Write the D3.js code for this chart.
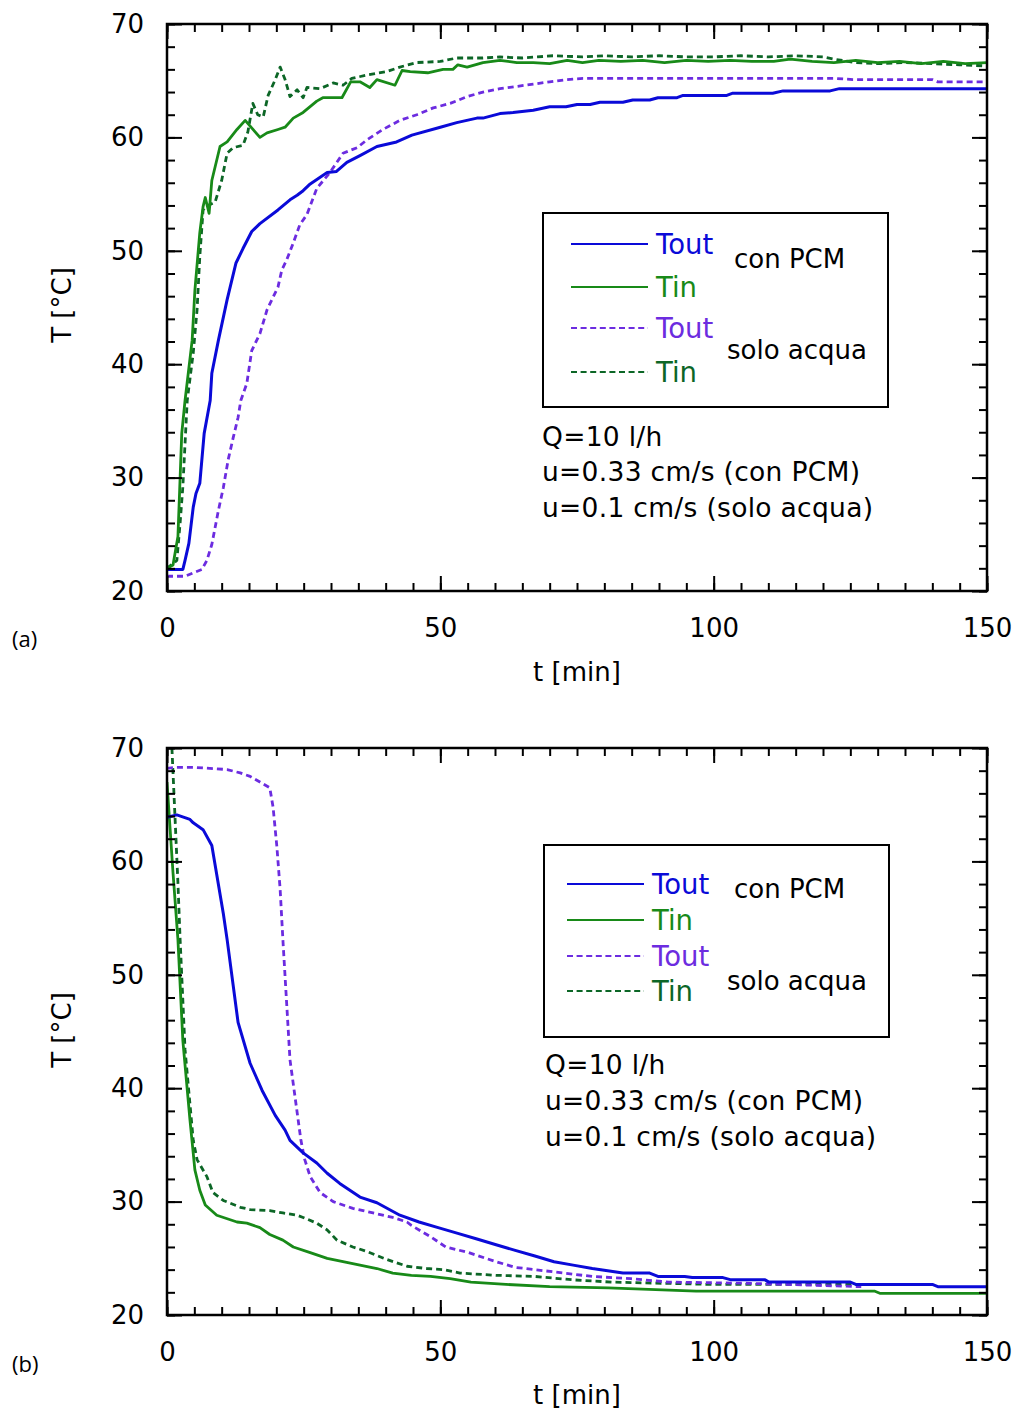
<!DOCTYPE html>
<html><head><meta charset="utf-8">
<script src="https://cdn.jsdelivr.net/npm/d3@7"></script>
<style>body{margin:0;background:#fff}svg{display:block}</style>
</head><body><svg id="c" width="1015" height="1412"></svg>
<script>
// ---------- DATA (t [min], T [°C]) ----------
// (a) heating
const a_ToutPCM = [[0,21.9],[2.9,21.9],[3.3,22.7],[4.0,24.2],[4.8,27.4],[5.3,28.6],[6.0,29.5],[6.8,33.9],[7.9,36.8],[8.2,39.2],[9.4,42.1],[11,45.7],[12.6,48.9],[13.9,50.2],[15.5,51.7],[17,52.4],[20.3,53.6],[22.5,54.5],[23.8,54.9],[24.9,55.3],[26.2,55.9],[29.3,56.9],[31,57.0],[32.9,57.8],[35.3,58.4],[38.4,59.2],[42,59.6],[44.8,60.2],[50,60.9],[53,61.3],[56.7,61.7],[57.8,61.7],[60.9,62.1],[63.3,62.2],[67,62.4],[70,62.7],[73,62.7],[75,62.9],[77.4,62.9],[79.2,63.1],[83.4,63.1],[85.2,63.3],[88.3,63.3],[89.8,63.5],[93.3,63.5],[94.4,63.7],[102.4,63.7],[103.5,63.9],[110.8,63.9],[112.7,64.1],[121.3,64.1],[123,64.3],[150,64.3]];
const a_TinPCM = [[0,22.0],[1.1,22.3],[2.0,24.8],[2.7,33.9],[3.3,36.8],[4.6,42.1],[5.1,46.5],[6.0,51.6],[6.6,53.9],[7.0,54.7],[7.7,53.3],[8.2,56.2],[9.7,59.2],[11,59.6],[12.8,60.7],[14.3,61.5],[17,60.0],[18.3,60.4],[20.3,60.7],[21.6,60.9],[23.1,61.7],[24.9,62.2],[27.4,63.2],[28.5,63.5],[32,63.5],[33.6,64.9],[35.3,64.9],[37.1,64.4],[38.4,65.1],[41.7,64.6],[43,65.9],[44.5,65.8],[47.7,65.7],[50.5,66.0],[52.3,66.0],[53.2,66.4],[54.9,66.2],[57.8,66.6],[60.9,66.8],[64,66.6],[67,66.6],[70,66.5],[73.2,66.8],[76,66.6],[79,66.8],[83,66.7],[87,66.8],[91,66.6],[95,66.8],[99,66.7],[103,66.8],[107,66.7],[111,66.7],[114,66.9],[118,66.7],[122,66.6],[126,66.8],[130,66.6],[134,66.7],[138,66.5],[142,66.7],[146,66.5],[150,66.6]];
const a_ToutAcqua = [[0,21.3],[3.3,21.3],[4.8,21.6],[6.4,21.9],[7.3,22.7],[8.2,24.1],[8.8,25.6],[9.4,27.1],[10.3,29.1],[11.2,31.6],[12.1,33.5],[13,35.3],[13.5,36.8],[14.6,38.3],[15.5,41.2],[17,42.7],[18.3,44.8],[19.4,45.9],[20.3,46.8],[21,48.3],[21.9,49.2],[23.1,50.7],[24.3,52.3],[25.6,53.2],[27.4,55.5],[29.8,56.9],[32.2,58.6],[34.8,59.1],[36.6,59.8],[39.5,60.7],[42.6,61.5],[45.7,62.0],[48.7,62.6],[51.8,63.0],[54.9,63.6],[57.8,64.0],[60.9,64.3],[64,64.5],[67,64.7],[70,64.9],[73.2,65.1],[76.1,65.2],[122,65.2],[125.5,65.1],[140,65.1],[141,64.9],[150,64.9]];
const a_TinAcqua = [[0,22.0],[1.8,22.7],[2.4,26.0],[2.9,29.2],[3.3,33.0],[3.7,36.8],[4.8,41.0],[5.5,44.8],[6.0,49.5],[6.6,53.6],[7.5,54.0],[8.8,54.3],[10,56.2],[11,58.6],[12.1,59.1],[13.9,59.3],[14.8,60.5],[15.7,63.0],[16.6,62.0],[17.6,61.8],[18.5,63.7],[19.8,65.1],[20.7,66.2],[21.6,65.1],[22.5,63.6],[23.8,64.2],[24.9,63.5],[25.6,64.4],[28,64.3],[30.4,64.8],[32.2,64.6],[33.8,65.2],[36.6,65.5],[40.2,65.8],[42.6,66.2],[45.7,66.6],[50,66.7],[53,67.0],[57.8,67.0],[60.9,67.1],[65,67.0],[70.6,67.2],[76,67.1],[80,67.2],[85,67.1],[90,67.2],[95,67.1],[100,67.1],[105,67.2],[110,67.1],[115,67.2],[120,67.1],[122,66.9],[126,66.6],[130,66.5],[135,66.6],[140,66.5],[145,66.4],[150,66.3]];
// (b) cooling
const b_ToutPCM = [[0,63.9],[1.8,64.1],[4.2,63.7],[4.8,63.4],[6.6,62.8],[8.2,61.4],[10.3,55.4],[11,53.1],[13,45.8],[15.2,42.2],[17.4,39.8],[19.8,37.6],[21.6,36.3],[22.5,35.4],[24.9,34.3],[27.4,33.4],[29.3,32.5],[31.6,31.6],[35.3,30.4],[38.4,29.9],[42.6,28.8],[46.1,28.2],[49.6,27.7],[53.2,27.2],[56.7,26.7],[60.2,26.2],[63.7,25.7],[67.3,25.2],[70.8,24.7],[74.3,24.4],[77.8,24.1],[83.4,23.7],[88.3,23.7],[89.8,23.4],[94.7,23.4],[96.1,23.3],[101.7,23.3],[103.2,23.1],[109.4,23.1],[110.1,22.9],[125,22.9],[126,22.7],[140,22.7],[141,22.5],[150,22.5]];
const b_TinPCM = [[0,67.0],[1.1,59.0],[2.0,53.1],[2.9,44.2],[4.2,37.2],[5.1,32.8],[6.0,31.0],[7.0,29.7],[9.1,28.8],[12.8,28.2],[14.6,28.1],[17,27.7],[18.8,27.1],[21.2,26.6],[23.1,26.0],[26.2,25.5],[29.3,25.0],[32.2,24.7],[35.3,24.4],[38.4,24.1],[41.3,23.7],[44.7,23.5],[48.2,23.4],[51.8,23.2],[55.6,22.9],[62,22.7],[70,22.5],[80.7,22.4],[96.8,22.1],[129.5,22.1],[130.5,21.9],[150,21.9]];
const b_ToutAcqua = [[0,68.2],[1.8,68.3],[4.8,68.3],[11,68.1],[13.4,67.8],[15.2,67.5],[17,67.0],[18.8,66.5],[19.4,64.8],[20.1,61.3],[20.7,57.5],[21.2,53.1],[22.5,42.5],[24.5,35.4],[25.2,33.7],[26.2,32.2],[28,30.8],[30.4,30.0],[34,29.4],[37.7,29.0],[41.3,28.6],[43.9,28.2],[44.7,27.9],[48.2,26.9],[51,26.0],[55.2,25.5],[60.2,24.7],[63.7,24.2],[70.8,23.8],[77.8,23.4],[84.9,23.2],[91.8,22.9],[105.9,22.8],[113,22.7],[120,22.6],[127,22.5]];
const b_TinAcqua = [[0.9,70.0],[2.0,58.1],[2.4,53.1],[3.3,43.4],[4.8,35.4],[5.5,33.7],[7.3,32.2],[8.4,30.8],[10.3,30.1],[13.4,29.5],[15.2,29.3],[18.8,29.2],[21.2,29.0],[23.8,28.8],[24.9,28.6],[27.4,28.1],[29.3,27.5],[31.1,26.6],[34,26.0],[36.6,25.6],[40.2,24.9],[43.9,24.3],[47.5,24.1],[50.5,24.0],[53.6,23.7],[60.2,23.5],[67.3,23.4],[74.3,23.1],[81.4,22.9],[90.6,22.8],[99,22.7],[127,22.7]];

// tick values / labels
const xMajor = [0, 50, 100, 150];
const xMinor = d3.range(0, 151, 5);
const yMajor = [20, 30, 40, 50, 60, 70];
const yMinor = d3.range(20, 71, 2);
const seriesLabels = ["Tout", "Tin", "Tout", "Tin"];
const groupLabels = ["con PCM", "solo acqua"];
const notes = ["Q=10 l/h", "u=0.33 cm/s (con PCM)", "u=0.1 cm/s (solo acqua)"];
const xTitle = "t [min]";
const yTitle = "T [°C]";
const panelLabels = ["(a)", "(b)"];

// ---------- STYLE ----------
const colors = ["#0a0ad8", "#188a18", "#6c2ce0", "#0c6626"];
const dashes = [null, null, "6,4", "6,4"];
const widths = [3, 2.8, 2.8, 2.8];
const FONT = "DejaVu Sans, Verdana, sans-serif";

const svg = d3.select("#c");
const L = 167, R = 987;

const panels = [
  { top: 24, bottom: 591, series: [a_ToutPCM, a_TinPCM, a_ToutAcqua, a_TinAcqua],
    box: [543, 213, 888, 407], lx: [571, 648], ly: [244, 287, 328, 372], tx: 656,
    grp: [[734, 268], [727, 359]], nx: 542, ny: [446, 481, 517],
    plab: [12, 647], xt: 681, yc: 305 },
  { top: 748, bottom: 1315, series: [b_ToutPCM, b_TinPCM, b_ToutAcqua, b_TinAcqua],
    box: [544, 845, 889, 1037], lx: [567, 644], ly: [884, 920, 956, 991], tx: 652,
    grp: [[734, 898], [727, 990]], nx: 545, ny: [1074, 1110, 1146],
    plab: [12, 1372], xt: 1404, yc: 1030 }
];

panels.forEach((p, pi) => {
  const x = d3.scaleLinear().domain([0, 150]).range([L, R]);
  const y = d3.scaleLinear().domain([20, 70]).range([p.bottom, p.top]);
  const g = svg.append("g");

  const clipId = "clip" + pi;
  svg.append("clipPath").attr("id", clipId).append("rect")
    .attr("x", L).attr("y", p.top).attr("width", R - L).attr("height", p.bottom - p.top);

  // lines
  const line = d3.line().x(d => x(d[0])).y(d => y(d[1]));
  const lg = g.append("g").attr("clip-path", `url(#${clipId})`);
  [3, 2, 1, 0].forEach(i => {
    lg.append("path").datum(p.series[i]).attr("d", line)
      .attr("fill", "none").attr("stroke", colors[i]).attr("stroke-width", widths[i])
      .attr("stroke-dasharray", dashes[i]).attr("stroke-linejoin", "round");
  });

  // axes
  function styleAxis(sel) {
    sel.select(".domain").remove();
    sel.selectAll(".tick line").attr("stroke", "#000").attr("stroke-width", 2);
    sel.selectAll("text").attr("font-family", FONT).attr("font-size", 26).attr("fill", "#000");
  }
  const mk = (axis, tr) => g.append("g").attr("transform", tr).call(axis).call(styleAxis);
  mk(d3.axisBottom(x).tickValues(xMinor).tickSize(-8).tickFormat(""), `translate(0,${p.bottom})`);
  mk(d3.axisBottom(x).tickValues(xMajor).tickSize(-15).tickPadding(28).tickFormat(d3.format("d")), `translate(0,${p.bottom})`);
  mk(d3.axisTop(x).tickValues(xMinor).tickSize(-8).tickFormat(""), `translate(0,${p.top})`);
  mk(d3.axisTop(x).tickValues(xMajor).tickSize(-15).tickFormat(""), `translate(0,${p.top})`);
  mk(d3.axisLeft(y).tickValues(yMinor).tickSize(-8).tickFormat(""), `translate(${L},0)`);
  mk(d3.axisLeft(y).tickValues(yMajor).tickSize(-15).tickPadding(23).tickFormat(d3.format("d")), `translate(${L},0)`);
  mk(d3.axisRight(y).tickValues(yMinor).tickSize(-8).tickFormat(""), `translate(${R},0)`);
  mk(d3.axisRight(y).tickValues(yMajor).tickSize(-15).tickFormat(""), `translate(${R},0)`);

  // frame
  g.append("rect").attr("x", L).attr("y", p.top).attr("width", R - L).attr("height", p.bottom - p.top)
    .attr("fill", "none").attr("stroke", "#000").attr("stroke-width", 2.5);

  // axis titles
  g.append("text").attr("x", (L + R) / 2).attr("y", p.xt).attr("text-anchor", "middle")
    .attr("font-family", FONT).attr("font-size", 26).text(xTitle);
  g.append("text").attr("transform", `translate(71,${p.yc}) rotate(-90)`).attr("text-anchor", "middle")
    .attr("font-family", FONT).attr("font-size", 26).text(yTitle);
  g.append("text").attr("x", p.plab[0]).attr("y", p.plab[1])
    .attr("font-family", "Open Sans, sans-serif").attr("font-size", 22).text(panelLabels[pi]);

  // legend
  const [bx0, by0, bx1, by1] = p.box;
  g.append("rect").attr("x", bx0).attr("y", by0).attr("width", bx1 - bx0).attr("height", by1 - by0)
    .attr("fill", "#fff").attr("stroke", "#000").attr("stroke-width", 2);
  seriesLabels.forEach((lab, i) => {
    g.append("line").attr("x1", p.lx[0]).attr("x2", p.lx[1]).attr("y1", p.ly[i]).attr("y2", p.ly[i])
      .attr("stroke", colors[i]).attr("stroke-width", 2).attr("stroke-dasharray", i >= 2 ? "6,3.6" : null);
    g.append("text").attr("x", p.tx).attr("y", p.ly[i] + 10).attr("font-family", FONT)
      .attr("font-size", 27.5).attr("fill", colors[i]).text(lab);
  });
  groupLabels.forEach((lab, i) => {
    g.append("text").attr("x", p.grp[i][0]).attr("y", p.grp[i][1]).attr("font-family", FONT)
      .attr("font-size", 26).attr("fill", "#000").text(lab);
  });
  notes.forEach((n, i) => {
    g.append("text").attr("x", p.nx).attr("y", p.ny[i]).attr("font-family", FONT)
      .attr("font-size", 26.5).attr("letter-spacing", 0.3).attr("fill", "#000").text(n);
  });
});
</script></body></html>
